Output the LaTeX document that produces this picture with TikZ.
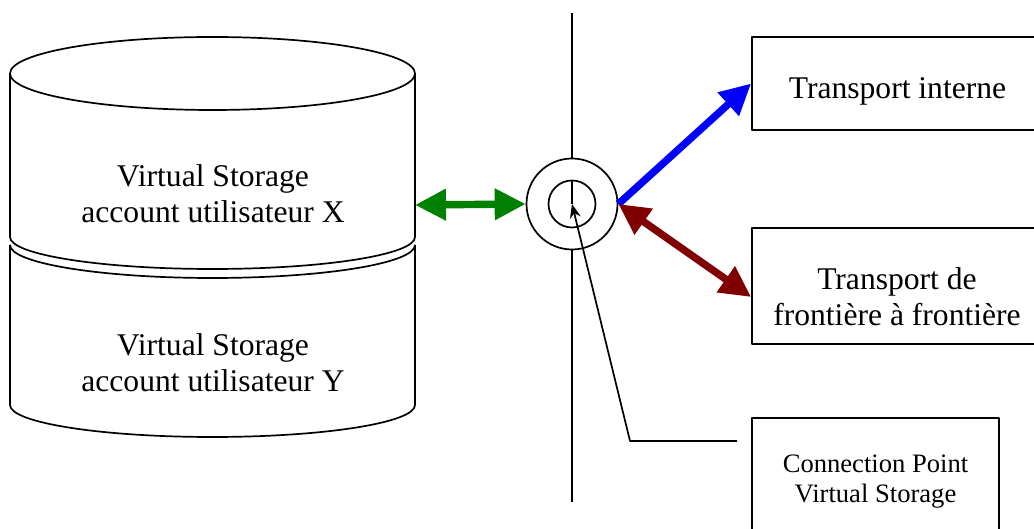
\documentclass[tikz,border=0pt]{standalone}
\usepackage{fontspec}
\setmainfont{Liberation Serif}
\usetikzlibrary{arrows.meta,positioning}
\definecolor{vsgreen}{RGB}{0,128,0}
\definecolor{vsblue}{RGB}{0,0,255}
\definecolor{vsred}{RGB}{128,0,0}
\begin{document}
\begin{tikzpicture}[x=0.5pt,y=0.5pt,line join=round,line width=0.85pt,
	font=\fontsize{15.8}{18}\selectfont,
	tbox/.style={draw,rectangle,inner sep=0pt,fill=white},
	txt/.style={align=center,inner sep=0pt},
	fat/.style={line width=3.7pt,>={Triangle[length=15.5pt,width=15pt]}}]
	\useasboundingbox (0,0) rectangle (1034,529);
	\clip (0,0) rectangle (1034,529);
	% storage
	\draw (10,455.5)--(10,292) arc[start angle=180,end angle=360,x radius=202.5,y radius=32]--(415,455.5);
	\draw (212.5,455.5) ellipse [x radius=202.5,y radius=36.5];
	\draw (10,284)--(10,124) arc[start angle=180,end angle=360,x radius=202.5,y radius=32]--(415,284);
	\draw (10,284) arc[start angle=180,end angle=360,x radius=202.5,y radius=33];
	\node[txt] (userX) at (213,335) {Virtual Storage\\account utilisateur X};
	\node[txt] (userY) at (213,166.3) {Virtual Storage\\account utilisateur Y};
	\coordinate (cylR) at (415,324);
	% connection point
	\coordinate (lineTop) at (572,516);
	\coordinate (lineBot) at (572,27);
	\draw (lineTop)--(lineBot);
	\node[circle,draw,fill=white,minimum size=45.5pt,inner sep=0pt] (cp) at (572,325) {};
	\node[circle,draw,minimum size=23.5pt,inner sep=0pt] (cpin) at (cp) {};
	\draw (cpin.north)--(cpin.center);
	% transports
	\node[tbox,minimum width=145pt,minimum height=46.5pt] (intern) at (897,445.5) {};
	\node[txt] (internTxt) at (897.5,437.4) {Transport interne};
	\node[tbox,minimum width=145pt,minimum height=58pt] (frontier) at (897,243) {};
	\node[txt] (frontierTxt) at (897,232.8) {Transport de\\fronti\`ere \`a fronti\`ere};
	\node[tbox,minimum width=123.5pt,minimum height=64pt,align=center,
		font=\fontsize{13.3}{15}\selectfont] (cpbox) at (875.5,47) {Connection Point\\Virtual Storage};
	% arrows
	\draw[fat,vsgreen,<->] (cylR)--(cp.west);
	\draw[fat,vsblue,->] (cp.east)--(intern.west);
	\draw[fat,vsred,<->] (cp.east)--([yshift=-5.5pt]frontier.west);
	\coordinate (lead) at (737,88);
	\coordinate (bend) at (630,88);
	\draw[-{Stealth[length=7pt,width=5.5pt]}] (lead)--(bend)--(cp.center);
\end{tikzpicture}
\end{document}
